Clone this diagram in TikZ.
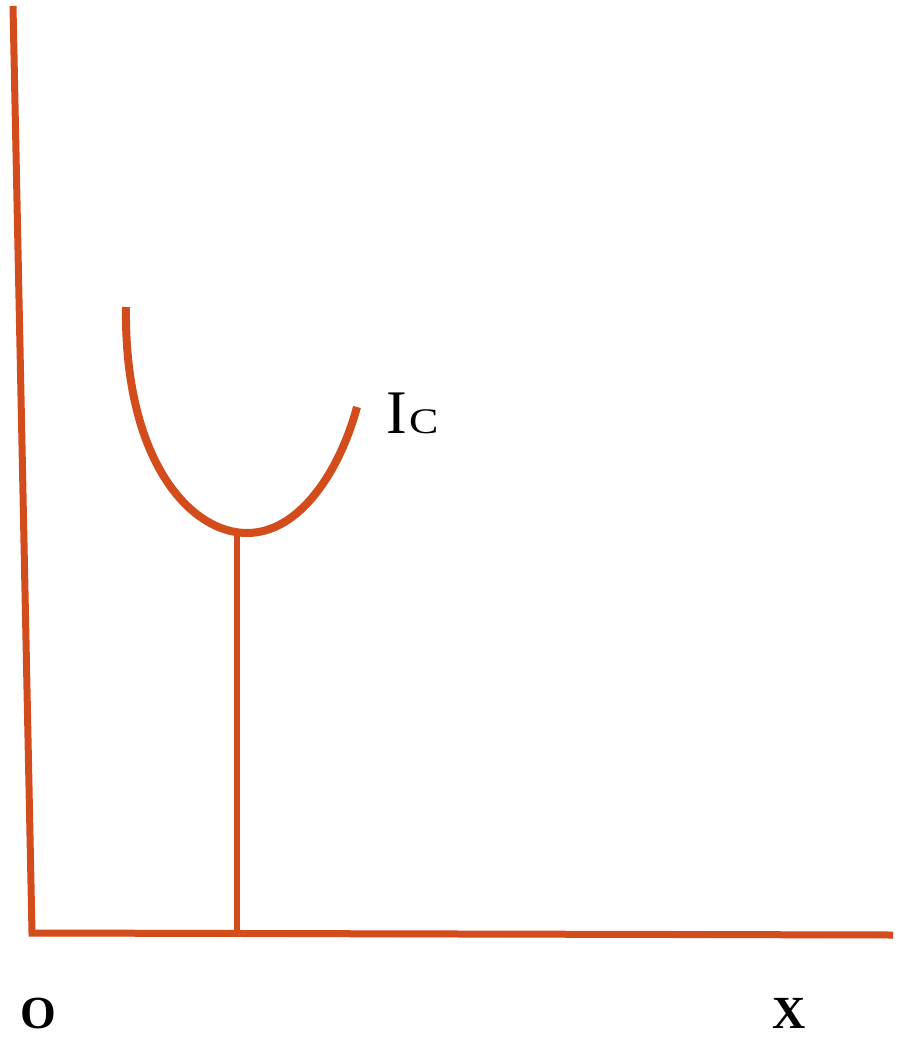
\documentclass[tikz,border=0pt]{standalone}
\usepackage{fontspec}
\setmainfont{Liberation Serif}
\usepackage{tikz}
\usetikzlibrary{calc}
\definecolor{icred}{RGB}{211,76,28}
\tikzset{
  % soft grey copy under each stroke, shifted down and right
  shad/.style={preaction={draw=black!45,opacity=0.35,transform canvas={shift={(1.2pt,-1.5pt)}}}},
  axis/.style={shad,draw=icred,line width=3.5pt},
  icurve/.style={shad,draw=icred,line width=4pt},
  drop/.style={shad,draw=icred,line width=3pt},
  lbl/.style={inner sep=0pt,font=\bfseries\fontsize{23}{23}\selectfont},
}
\begin{document}
\begin{tikzpicture}[x=0.5pt,y=-0.5pt]
  \useasboundingbox (0,0) rectangle (901,1037);
  \coordinate (ytop) at (13,6);
  \coordinate (orig) at (32,933);
  \coordinate (xend) at (893,935);
  \coordinate (c1) at (126,307);
  \coordinate (cmin) at (247,533);
  \coordinate (c2) at (357,407);
  \coordinate (dtop) at (237,535);
  \coordinate (dfoot) at (237,933);
  \draw[axis,line join=miter] (ytop) -- (orig) -- (xend);
  \draw[drop] (dtop) -- (dfoot);
  \draw[icurve] (c1) .. controls (124,460) and (190,533) .. (cmin)
    .. controls (300,533) and (340,470) .. (c2);
  \node[inner sep=0pt,anchor=base west] (ic) at (386,433)
    {\fontsize{31}{31}\selectfont I\kern1pt\fontsize{18}{18}\selectfont\scalebox{1.22}[1]{C}};
  \node[lbl] (o) at (38,1013) {O};
  \node[lbl] (x) at (789,1013) {X};
\end{tikzpicture}
\end{document}
